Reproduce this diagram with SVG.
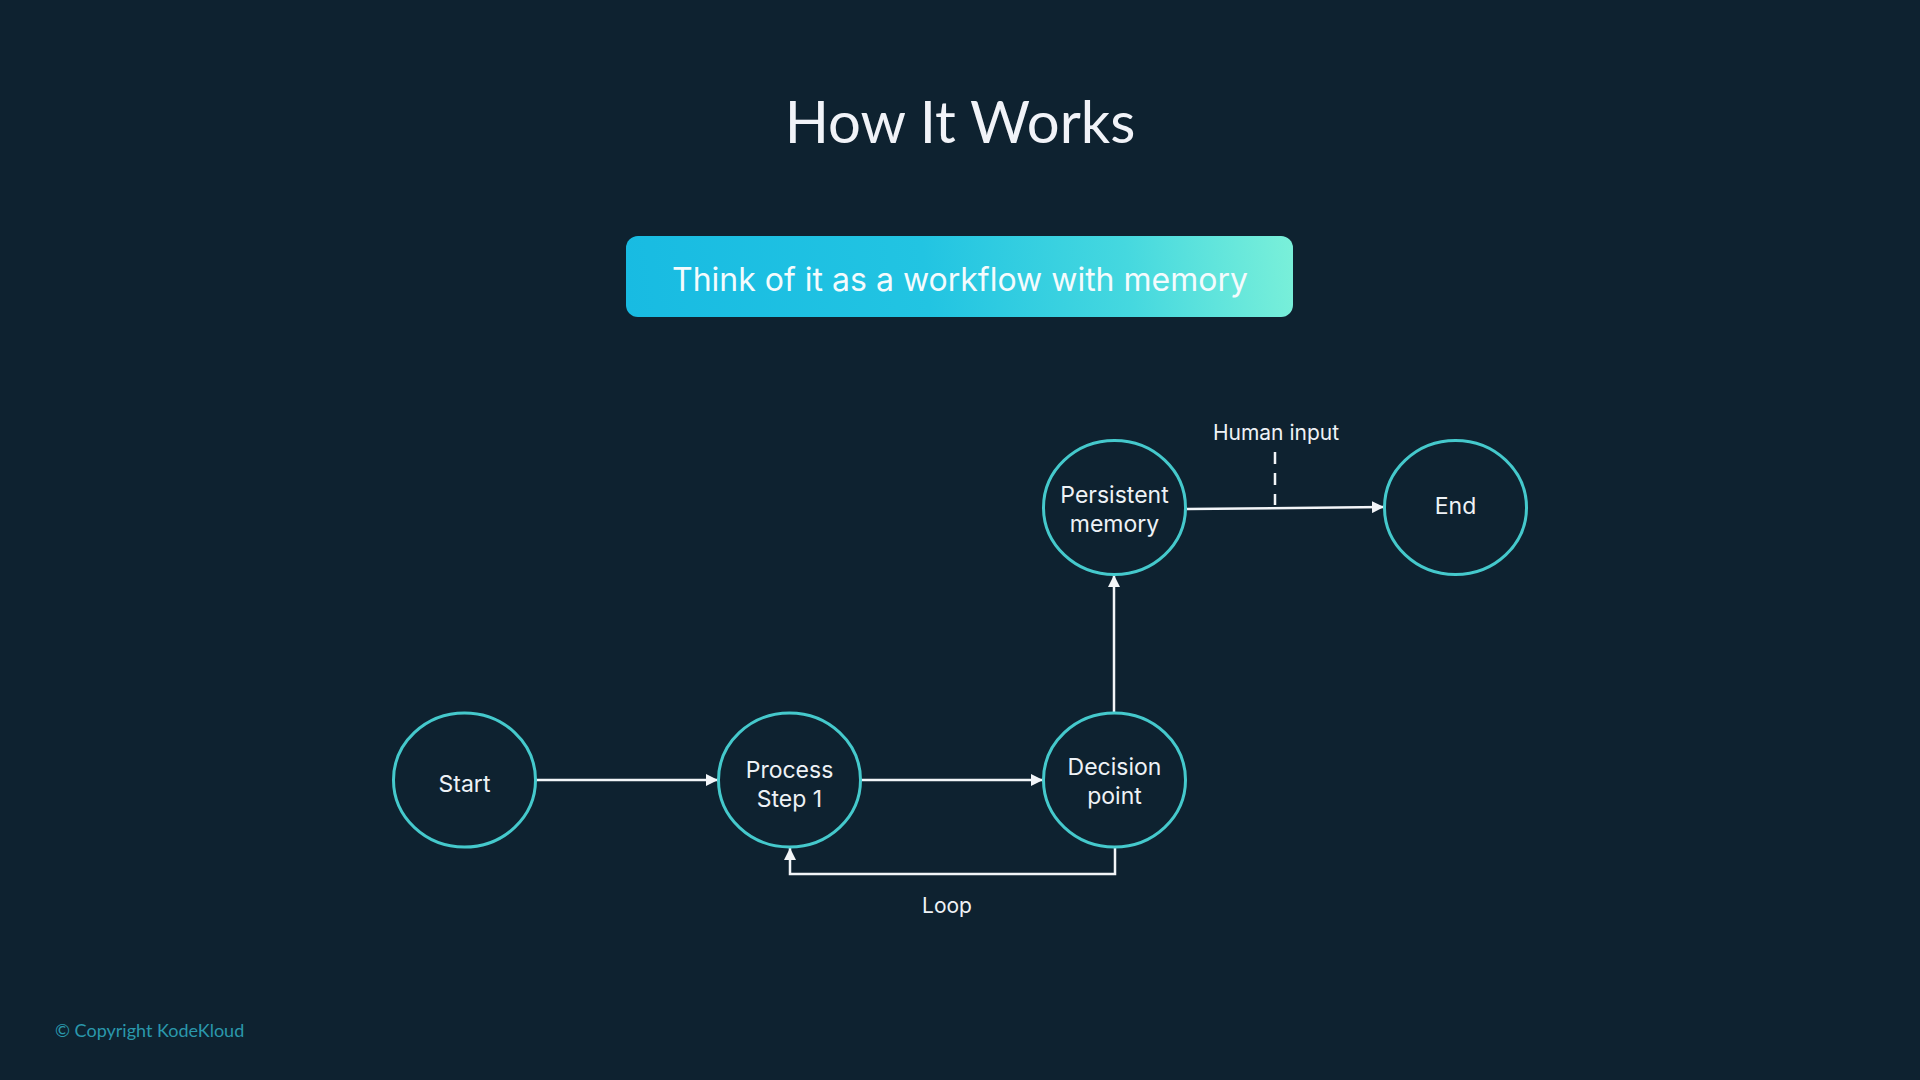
<svg xmlns="http://www.w3.org/2000/svg" width="1920" height="1080" viewBox="0 0 1920 1080">
<defs>
<linearGradient id="bannerGrad" gradientUnits="userSpaceOnUse" x1="626" y1="317" x2="1293" y2="236">
<stop offset="0" stop-color="#18bbe2"/>
<stop offset="0.45" stop-color="#22c4e2"/>
<stop offset="0.75" stop-color="#45d8df"/>
<stop offset="1" stop-color="#7af0d9"/>
</linearGradient>
<marker id="arrow" viewBox="0 0 10 10" refX="10" refY="5" markerWidth="12" markerHeight="12" markerUnits="userSpaceOnUse" orient="auto">
<path d="M0,0 L10,5 L0,10 z" fill="#f2f5f8"/>
</marker>
<style>
.node ellipse { fill: #0e2230; stroke: #45c9cc; stroke-width: 3; }
.node text { font-family: Inter, "Noto Sans", sans-serif; font-size: 23px; fill: #eef2f6; text-anchor: middle; }
.conn { fill: none; stroke: #f2f5f8; stroke-width: 2.5; }
.lbl { font-family: Inter, "Noto Sans", sans-serif; font-size: 21px; fill: #eef2f6; text-anchor: middle; }
</style>
</defs>
<rect width="1920" height="1080" fill="#0e2230"/>
<text x="960" y="143" font-family="Lato, 'Open Sans', sans-serif" font-size="58" fill="#f1f3f8" text-anchor="middle">How It Works</text>
<g id="banner">
<rect x="626" y="236" width="667" height="81" rx="12" fill="url(#bannerGrad)"/>
<text x="960" y="291" font-family="Inter, 'Noto Sans', sans-serif" font-size="32" fill="#f4fbfd" text-anchor="middle">Think of it as a workflow with memory</text>
</g>
<g id="connectors">
<line class="conn" x1="536" y1="780" x2="718" y2="780" marker-end="url(#arrow)"/>
<line class="conn" x1="861" y1="780" x2="1043" y2="780" marker-end="url(#arrow)"/>
<line class="conn" x1="1114" y1="713" x2="1114" y2="575" marker-end="url(#arrow)"/>
<line class="conn" x1="1187" y1="509" x2="1384" y2="507" marker-end="url(#arrow)"/>
<line class="conn" x1="1275" y1="452" x2="1275" y2="505" stroke-width="3" stroke-dasharray="12,9"/>
<polyline class="conn" points="1115,847 1115,874 790,874 790,848" marker-end="url(#arrow)"/>
<text class="lbl" x="1276" y="440">Human input</text>
<text class="lbl" x="947" y="913">Loop</text>
</g>
<g id="node-start" class="node">
<ellipse cx="464.5" cy="780" rx="71" ry="67"/>
<text x="464.5" y="792">Start</text>
</g>
<g id="node-process" class="node">
<ellipse cx="789.5" cy="780" rx="71" ry="67"/>
<text x="789.5" y="778">Process</text>
<text x="789.5" y="807">Step 1</text>
</g>
<g id="node-decision" class="node">
<ellipse cx="1114.5" cy="780" rx="71" ry="67"/>
<text x="1114.5" y="775">Decision</text>
<text x="1114.5" y="804">point</text>
</g>
<g id="node-memory" class="node">
<ellipse cx="1114.5" cy="507.5" rx="71" ry="67"/>
<text x="1114.5" y="503">Persistent</text>
<text x="1114.5" y="532">memory</text>
</g>
<g id="node-end" class="node">
<ellipse cx="1455.5" cy="507.5" rx="71" ry="67"/>
<text x="1455.5" y="514">End</text>
</g>
<text x="55" y="1037" font-family="Lato, 'Open Sans', sans-serif" font-size="18" fill="#2a98ac">© Copyright KodeKloud</text>
</svg>
